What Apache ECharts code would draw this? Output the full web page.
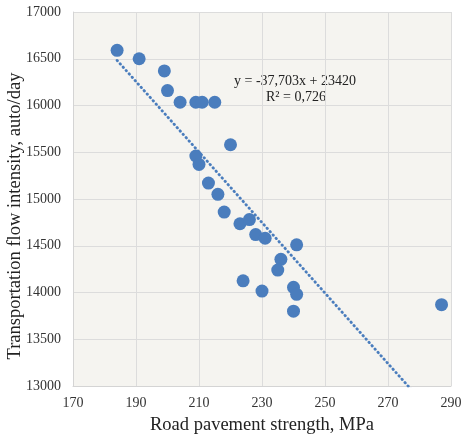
<!DOCTYPE html>
<html>
<head>
<meta charset="utf-8">
<script src="https://cdn.jsdelivr.net/npm/echarts@6/dist/echarts.min.js"></script>
<style>html,body{margin:0;padding:0;background:#fff}#c{width:462px;height:436px}</style>
</head>
<body>
<div id="c"></div>
<script>
const strength = [184, 191, 199, 200, 204, 209, 211, 215, 220, 209, 210, 213, 216, 218, 223, 226, 228, 231, 241, 236, 235, 224, 230, 240, 241, 240, 287];
const intensity = [16590, 16500, 16370, 16160, 16035, 16035, 16035, 16035, 15580, 15460, 15370, 15170, 15050, 14860, 14735, 14780, 14620, 14580, 14510, 14355, 14240, 14125, 14015, 14055, 13980, 13800, 13870];
const trendSlope = -37.703;
const trendIntercept = 23420;
const xTicks = [170, 190, 210, 230, 250, 270, 290];
const yTicks = [13000, 13500, 14000, 14500, 15000, 15500, 16000, 16500, 17000];
const xTitle = 'Road pavement strength, MPa';
const yTitle = 'Transportation flow intensity, auto/day';
const equationText = 'y = -37,703x + 23420';
const r2Text = 'R\u00B2 = 0,726';

const points = strength.map((x, i) => [x, intensity[i]]);
const xMin = Math.min(...strength), xMax = Math.max(...strength);
const trend = [[xMin, trendSlope * xMin + trendIntercept], [xMax, trendSlope * xMax + trendIntercept]];

const font = '"Liberation Serif", "Times New Roman", serif';
const chart = echarts.init(document.getElementById('c'), null, {renderer: 'canvas'});
chart.setOption({
  animation: false,
  backgroundColor: '#ffffff',
  grid: {left: 73, right: 11, top: 12, bottom: 50, show: true, backgroundColor: '#f5f4f0', borderWidth: 0, containLabel: false, outerBoundsMode: 'none'},
  xAxis: {
    type: 'value', min: xTicks[0], max: xTicks[xTicks.length - 1], interval: 20,
    axisLine: {show: true, lineStyle: {color: '#d4d4d4', width: 1}},
    axisTick: {show: false},
    splitLine: {show: true, lineStyle: {color: '#dcdcdc', width: 1}},
    axisLabel: {color: '#333', fontFamily: font, fontSize: 14, margin: 10, formatter: v => String(v)},
    name: xTitle, nameLocation: 'middle', nameGap: 30,
    nameTextStyle: {color: '#222', fontFamily: font, fontSize: 18.5}
  },
  yAxis: {
    type: 'value', min: yTicks[0], max: yTicks[yTicks.length - 1], interval: 500,
    axisLine: {show: true, lineStyle: {color: '#d4d4d4', width: 1}},
    axisTick: {show: false},
    splitLine: {show: true, lineStyle: {color: '#dcdcdc', width: 1}},
    axisLabel: {color: '#333', fontFamily: font, fontSize: 14, margin: 12, formatter: v => String(v)}
  },
  series: [
    {
      type: 'line', data: trend, showSymbol: false, symbol: 'none', clip: true,
      lineStyle: {color: '#4a7dbd', width: 2.8, type: [0.5, 4], cap: 'round'},
      z: 1
    },
    {
      type: 'scatter', data: points, symbolSize: 13,
      itemStyle: {color: '#4a7dbd', opacity: 1},
      z: 2
    }
  ],
  graphic: [
    {type: 'text', x: 15, y: 216, rotation: Math.PI / 2,
     style: {text: yTitle, font: '18.5px ' + font, fill: '#222', align: 'center', verticalAlign: 'middle'}},
    {type: 'text', left: 234, top: 74, style: {text: equationText, font: '14px ' + font, fill: '#222'}},
    {type: 'text', left: 266, top: 90, style: {text: r2Text, font: '14px ' + font, fill: '#222'}}
  ]
});
</script>
</body>
</html>
